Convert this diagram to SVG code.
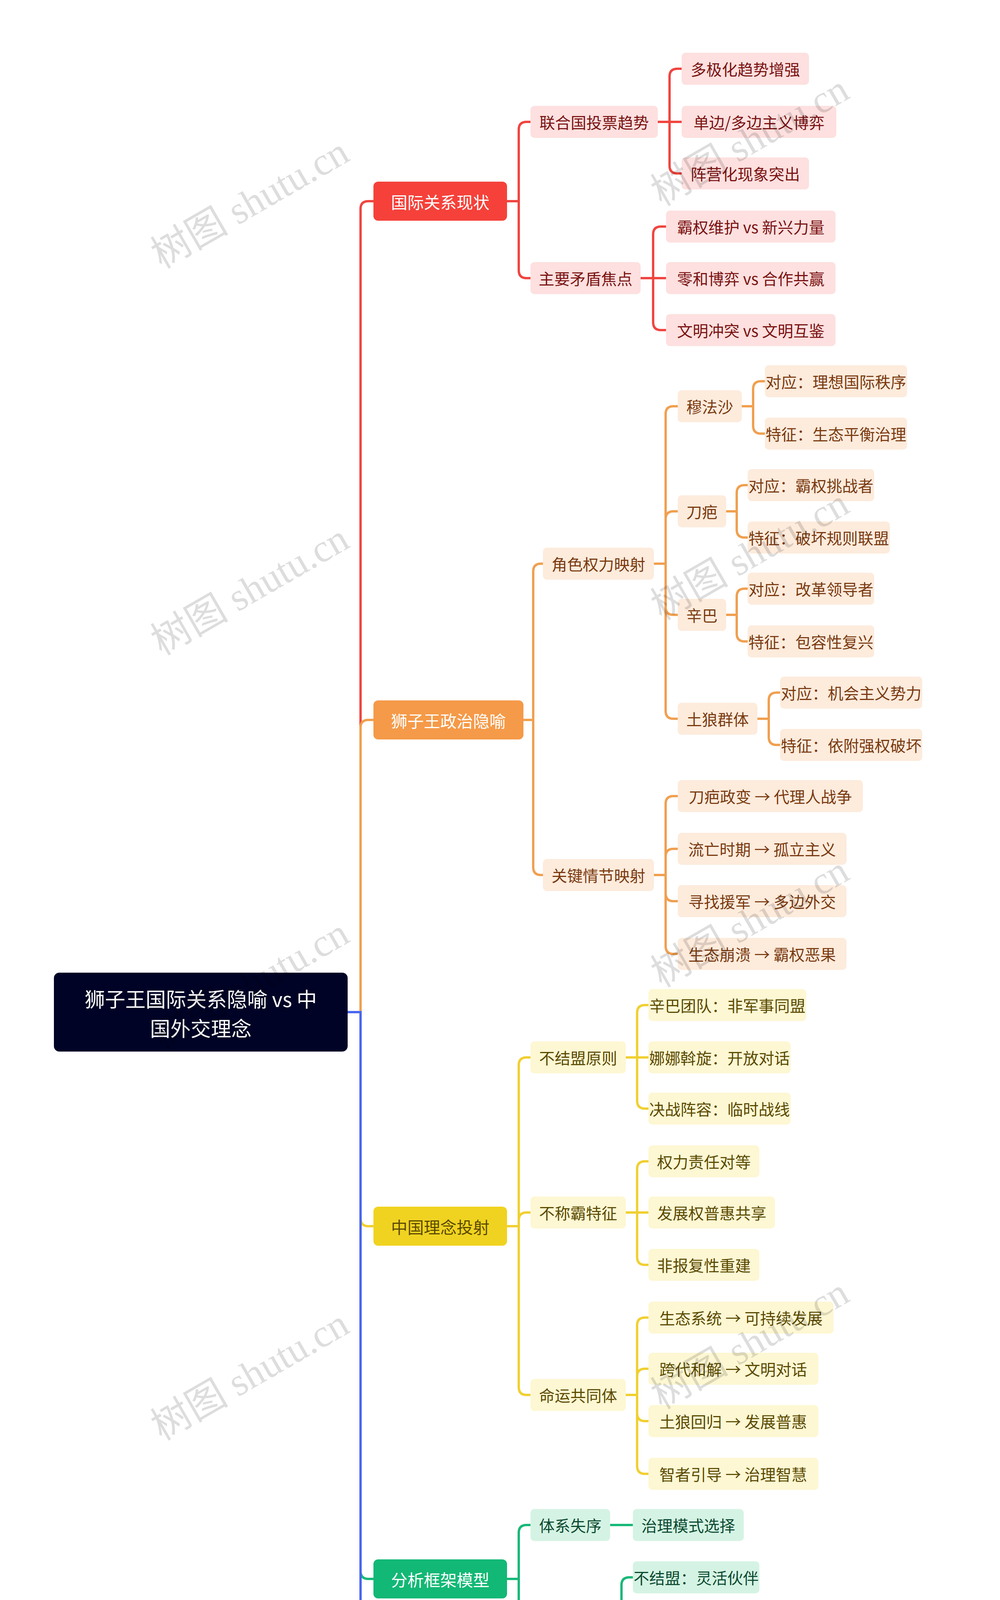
<svg xmlns="http://www.w3.org/2000/svg" width="2560" height="5051" viewBox="0 0 2560 5051">
<style>
text{font-family:"Noto Sans CJK SC","Liberation Sans",sans-serif;dominant-baseline:central;text-anchor:middle}
.t1{font-size:42px}.t2{font-size:40px}
.wm{font-family:"Liberation Serif","Noto Sans CJK SC",serif;font-size:100px;fill:#000;opacity:0.13;text-anchor:middle}
#connectors path{fill:none;stroke-width:6}
.cr{stroke:#f04540}.co{stroke:#f0a050}.cy{stroke:#f0d030}.cg{stroke:#18b878}.cb{stroke:#4a66ee}
.r1{fill:#f5413a}.r2{fill:#fde0df}.rt{fill:#7a1212}
.o1{fill:#f59a48}.o2{fill:#fdebdc}.ot{fill:#7a3a10}
.y1{fill:#f0d321}.y2{fill:#fdf7d3}.yt{fill:#5a4a00}
.g1{fill:#12b875}.g2{fill:#d5f3e4}.gt{fill:#0b4a30}
.b1{fill:#4a66f0}.b2{fill:#dde3fc}.bt{fill:#1a2a80}
.w{fill:#fff}
</style>
<rect width="2560" height="5051" fill="#fff"/>
<g id="connectors">
<path class="cr" d="M890 2591 H923 V535 Q923 515 943 515 H956"/>
<path class="co" d="M890 2591 H923 V1863 Q923 1843 943 1843 H956"/>
<path class="cy" d="M890 2591 H923 V3119 Q923 3139 943 3139 H956"/>
<path class="cg" d="M890 2591 H923 V4022 Q923 4042 943 4042 H956"/>
<path class="cb" d="M890 2591 H923 V4614 Q923 4634 943 4634 H956"/>
<path class="cr" d="M1298 515 H1328 V332 Q1328 312 1348 312 H1358"/>
<path class="cr" d="M1298 515 H1328 V692 Q1328 712 1348 712 H1358"/>
<path class="cr" d="M1684 312 H1714 V196 Q1714 176 1734 176 H1745"/>
<path class="cr" d="M1684 312 H1745"/>
<path class="cr" d="M1684 312 H1714 V424 Q1714 444 1734 444 H1745"/>
<path class="cr" d="M1640 712 H1672 V600 Q1672 580 1692 580 H1705"/>
<path class="cr" d="M1640 712 H1705"/>
<path class="cr" d="M1640 712 H1672 V825 Q1672 845 1692 845 H1705"/>
<path class="co" d="M1340 1843 H1365 V1463 Q1365 1443 1385 1443 H1390"/>
<path class="co" d="M1340 1843 H1365 V2220 Q1365 2240 1385 2240 H1390"/>
<path class="co" d="M1674 1443 H1704 V1060 Q1704 1040 1724 1040 H1735"/>
<path class="co" d="M1674 1443 H1704 V1329 Q1704 1309 1724 1309 H1735"/>
<path class="co" d="M1674 1443 H1704 V1554 Q1704 1574 1724 1574 H1735"/>
<path class="co" d="M1674 1443 H1704 V1820 Q1704 1840 1724 1840 H1735"/>
<path class="co" d="M1899 1040 H1928 V996 Q1928 976 1948 976 H1958"/>
<path class="co" d="M1899 1040 H1928 V1090 Q1928 1110 1948 1110 H1958"/>
<path class="co" d="M1859 1309 H1886 V1262 Q1886 1242 1906 1242 H1914"/>
<path class="co" d="M1859 1309 H1886 V1356 Q1886 1376 1906 1376 H1914"/>
<path class="co" d="M1859 1574 H1886 V1527 Q1886 1507 1906 1507 H1914"/>
<path class="co" d="M1859 1574 H1886 V1622 Q1886 1642 1906 1642 H1914"/>
<path class="co" d="M1939 1840 H1968 V1793 Q1968 1773 1988 1773 H1997"/>
<path class="co" d="M1939 1840 H1968 V1887 Q1968 1907 1988 1907 H1997"/>
<path class="co" d="M1674 2240 H1704 V2058 Q1704 2038 1724 2038 H1735"/>
<path class="co" d="M1674 2240 H1704 V2193 Q1704 2173 1724 2173 H1735"/>
<path class="co" d="M1674 2240 H1704 V2287 Q1704 2307 1724 2307 H1735"/>
<path class="co" d="M1674 2240 H1704 V2422 Q1704 2442 1724 2442 H1735"/>
<path class="cy" d="M1298 3139 H1328 V2727 Q1328 2707 1348 2707 H1358"/>
<path class="cy" d="M1298 3139 H1328 V3124 Q1328 3104 1348 3104 H1358"/>
<path class="cy" d="M1298 3139 H1328 V3551 Q1328 3571 1348 3571 H1358"/>
<path class="cy" d="M1602 2707 H1631 V2593 Q1631 2573 1651 2573 H1660"/>
<path class="cy" d="M1602 2707 H1660"/>
<path class="cy" d="M1602 2707 H1631 V2818 Q1631 2838 1651 2838 H1660"/>
<path class="cy" d="M1602 3104 H1631 V2993 Q1631 2973 1651 2973 H1660"/>
<path class="cy" d="M1602 3104 H1660"/>
<path class="cy" d="M1602 3104 H1631 V3218 Q1631 3238 1651 3238 H1660"/>
<path class="cy" d="M1602 3571 H1631 V3393 Q1631 3373 1651 3373 H1660"/>
<path class="cy" d="M1602 3571 H1631 V3524 Q1631 3504 1651 3504 H1660"/>
<path class="cy" d="M1602 3571 H1631 V3618 Q1631 3638 1651 3638 H1660"/>
<path class="cy" d="M1602 3571 H1631 V3753 Q1631 3773 1651 3773 H1660"/>
<path class="cg" d="M1298 4042 H1328 V3924 Q1328 3904 1348 3904 H1358"/>
<path class="cg" d="M1298 4042 H1328 V4153 Q1328 4173 1348 4173 H1358"/>
<path class="cg" d="M1562 3904 H1620"/>
<path class="cg" d="M1562 4173 H1591 V4058 Q1591 4038 1611 4038 H1620"/>
<path class="cg" d="M1562 4173 H1620"/>
<path class="cg" d="M1562 4173 H1591 V4284 Q1591 4304 1611 4304 H1620"/>
<path class="cb" d="M1214 4634 H1242 V4458 Q1242 4438 1262 4438 H1270"/>
<path class="cb" d="M1214 4634 H1242 V4590 Q1242 4570 1262 4570 H1270"/>
<path class="cb" d="M1214 4634 H1242 V4684 Q1242 4704 1262 4704 H1270"/>
<path class="cb" d="M1214 4634 H1242 V4815 Q1242 4835 1262 4835 H1270"/>
</g>
<g id="root"><rect x="138" y="2490" width="752" height="202" rx="14" fill="#000325"/><text x="514" y="2555" class="w" font-size="52">狮子王国际关系隐喻 vs 中</text><text x="514" y="2630" class="w" font-size="52">国外交理念</text></g>
<g id="n-A"><rect x="956" y="465" width="342" height="100" rx="12" class="r1"/><text x="1127" y="515" class="t1 w">国际关系现状</text></g>
<g id="n-B"><rect x="956" y="1793" width="384" height="100" rx="12" class="o1"/><text x="1148" y="1843" class="t1 w">狮子王政治隐喻</text></g>
<g id="n-C"><rect x="956" y="3089" width="342" height="100" rx="12" class="y1"/><text x="1127" y="3139" class="t1 yt">中国理念投射</text></g>
<g id="n-D"><rect x="956" y="3992" width="342" height="100" rx="12" class="g1"/><text x="1127" y="4042" class="t1 w">分析框架模型</text></g>
<g id="n-E"><rect x="956" y="4584" width="258" height="100" rx="12" class="b1"/><text x="1085" y="4634" class="t1 w">当代启示</text></g>
<g id="n-A1"><rect x="1358" y="271" width="326" height="82" rx="10" class="r2"/><text x="1521" y="312" class="t2 rt">联合国投票趋势</text></g>
<g id="n-A2"><rect x="1358" y="671" width="282" height="82" rx="10" class="r2"/><text x="1499" y="712" class="t2 rt">主要矛盾焦点</text></g>
<g id="n-A1a"><rect x="1745" y="135" width="326" height="82" rx="10" class="r2"/><text x="1908" y="176" class="t2 rt">多极化趋势增强</text></g>
<g id="n-A1b"><rect x="1745" y="271" width="396" height="82" rx="10" class="r2"/><text x="1943" y="312" class="t2 rt">单边/多边主义博弈</text></g>
<g id="n-A1c"><rect x="1745" y="403" width="326" height="82" rx="10" class="r2"/><text x="1908" y="444" class="t2 rt">阵营化现象突出</text></g>
<g id="n-A2a"><rect x="1705" y="539" width="434" height="82" rx="10" class="r2"/><text x="1922" y="580" class="t2 rt">霸权维护 vs 新兴力量</text></g>
<g id="n-A2b"><rect x="1705" y="671" width="434" height="82" rx="10" class="r2"/><text x="1922" y="712" class="t2 rt">零和博弈 vs 合作共赢</text></g>
<g id="n-A2c"><rect x="1705" y="804" width="434" height="82" rx="10" class="r2"/><text x="1922" y="845" class="t2 rt">文明冲突 vs 文明互鉴</text></g>
<g id="n-B1"><rect x="1390" y="1402" width="284" height="82" rx="10" class="o2"/><text x="1532" y="1443" class="t2 ot">角色权力映射</text></g>
<g id="n-B2"><rect x="1390" y="2199" width="284" height="82" rx="10" class="o2"/><text x="1532" y="2240" class="t2 ot">关键情节映射</text></g>
<g id="n-B1a"><rect x="1735" y="999" width="164" height="82" rx="10" class="o2"/><text x="1817" y="1040" class="t2 ot">穆法沙</text></g>
<g id="n-B1b"><rect x="1735" y="1268" width="124" height="82" rx="10" class="o2"/><text x="1797" y="1309" class="t2 ot">刀疤</text></g>
<g id="n-B1c"><rect x="1735" y="1533" width="124" height="82" rx="10" class="o2"/><text x="1797" y="1574" class="t2 ot">辛巴</text></g>
<g id="n-B1d"><rect x="1735" y="1799" width="204" height="82" rx="10" class="o2"/><text x="1837" y="1840" class="t2 ot">土狼群体</text></g>
<g id="n-B1a1"><rect x="1958" y="935" width="364" height="82" rx="10" class="o2"/><text x="2140" y="976" class="t2 ot">对应：理想国际秩序</text></g>
<g id="n-B1a2"><rect x="1958" y="1069" width="364" height="82" rx="10" class="o2"/><text x="2140" y="1110" class="t2 ot">特征：生态平衡治理</text></g>
<g id="n-B1b1"><rect x="1914" y="1201" width="324" height="82" rx="10" class="o2"/><text x="2076" y="1242" class="t2 ot">对应：霸权挑战者</text></g>
<g id="n-B1b2"><rect x="1914" y="1335" width="364" height="82" rx="10" class="o2"/><text x="2096" y="1376" class="t2 ot">特征：破坏规则联盟</text></g>
<g id="n-B1c1"><rect x="1914" y="1466" width="324" height="82" rx="10" class="o2"/><text x="2076" y="1507" class="t2 ot">对应：改革领导者</text></g>
<g id="n-B1c2"><rect x="1914" y="1601" width="324" height="82" rx="10" class="o2"/><text x="2076" y="1642" class="t2 ot">特征：包容性复兴</text></g>
<g id="n-B1d1"><rect x="1997" y="1732" width="364" height="82" rx="10" class="o2"/><text x="2179" y="1773" class="t2 ot">对应：机会主义势力</text></g>
<g id="n-B1d2"><rect x="1997" y="1866" width="364" height="82" rx="10" class="o2"/><text x="2179" y="1907" class="t2 ot">特征：依附强权破坏</text></g>
<g id="n-B2a"><rect x="1735" y="1997" width="474" height="82" rx="10" class="o2"/><text x="1972" y="2038" class="t2 ot">刀疤政变 → 代理人战争</text></g>
<g id="n-B2b"><rect x="1735" y="2132" width="432" height="82" rx="10" class="o2"/><text x="1951" y="2173" class="t2 ot">流亡时期 → 孤立主义</text></g>
<g id="n-B2c"><rect x="1735" y="2266" width="432" height="82" rx="10" class="o2"/><text x="1951" y="2307" class="t2 ot">寻找援军 → 多边外交</text></g>
<g id="n-B2d"><rect x="1735" y="2401" width="432" height="82" rx="10" class="o2"/><text x="1951" y="2442" class="t2 ot">生态崩溃 → 霸权恶果</text></g>
<g id="n-C1"><rect x="1358" y="2666" width="244" height="82" rx="10" class="y2"/><text x="1480" y="2707" class="t2 yt">不结盟原则</text></g>
<g id="n-C2"><rect x="1358" y="3063" width="244" height="82" rx="10" class="y2"/><text x="1480" y="3104" class="t2 yt">不称霸特征</text></g>
<g id="n-C3"><rect x="1358" y="3530" width="244" height="82" rx="10" class="y2"/><text x="1480" y="3571" class="t2 yt">命运共同体</text></g>
<g id="n-C1a"><rect x="1660" y="2532" width="404" height="82" rx="10" class="y2"/><text x="1862" y="2573" class="t2 yt">辛巴团队：非军事同盟</text></g>
<g id="n-C1b"><rect x="1660" y="2666" width="364" height="82" rx="10" class="y2"/><text x="1842" y="2707" class="t2 yt">娜娜斡旋：开放对话</text></g>
<g id="n-C1c"><rect x="1660" y="2797" width="364" height="82" rx="10" class="y2"/><text x="1842" y="2838" class="t2 yt">决战阵容：临时战线</text></g>
<g id="n-C2a"><rect x="1660" y="2932" width="284" height="82" rx="10" class="y2"/><text x="1802" y="2973" class="t2 yt">权力责任对等</text></g>
<g id="n-C2b"><rect x="1660" y="3063" width="324" height="82" rx="10" class="y2"/><text x="1822" y="3104" class="t2 yt">发展权普惠共享</text></g>
<g id="n-C2c"><rect x="1660" y="3197" width="284" height="82" rx="10" class="y2"/><text x="1802" y="3238" class="t2 yt">非报复性重建</text></g>
<g id="n-C3a"><rect x="1660" y="3332" width="474" height="82" rx="10" class="y2"/><text x="1897" y="3373" class="t2 yt">生态系统 → 可持续发展</text></g>
<g id="n-C3b"><rect x="1660" y="3463" width="435" height="82" rx="10" class="y2"/><text x="1877" y="3504" class="t2 yt">跨代和解 → 文明对话</text></g>
<g id="n-C3c"><rect x="1660" y="3597" width="435" height="82" rx="10" class="y2"/><text x="1877" y="3638" class="t2 yt">土狼回归 → 发展普惠</text></g>
<g id="n-C3d"><rect x="1660" y="3732" width="435" height="82" rx="10" class="y2"/><text x="1877" y="3773" class="t2 yt">智者引导 → 治理智慧</text></g>
<g id="n-D1"><rect x="1358" y="3863" width="204" height="82" rx="10" class="g2"/><text x="1460" y="3904" class="t2 gt">体系失序</text></g>
<g id="n-D2"><rect x="1358" y="4132" width="204" height="82" rx="10" class="g2"/><text x="1460" y="4173" class="t2 gt">中国方案</text></g>
<g id="n-D1a"><rect x="1620" y="3863" width="284" height="82" rx="10" class="g2"/><text x="1762" y="3904" class="t2 gt">治理模式选择</text></g>
<g id="n-D2a"><rect x="1620" y="3997" width="324" height="82" rx="10" class="g2"/><text x="1782" y="4038" class="t2 gt">不结盟：灵活伙伴</text></g>
<g id="n-D2b"><rect x="1620" y="4132" width="364" height="82" rx="10" class="g2"/><text x="1802" y="4173" class="t2 gt">不称霸：非强制领导</text></g>
<g id="n-D2c"><rect x="1620" y="4263" width="324" height="82" rx="10" class="g2"/><text x="1782" y="4304" class="t2 gt">共同体：系统方案</text></g>
<g id="n-E1"><rect x="1270" y="4397" width="284" height="82" rx="10" class="b2"/><text x="1412" y="4438" class="t2 bt">权力过渡智慧</text></g>
<g id="n-E2"><rect x="1270" y="4529" width="324" height="82" rx="10" class="b2"/><text x="1432" y="4570" class="t2 bt">治理合法性转型</text></g>
<g id="n-E3"><rect x="1270" y="4663" width="284" height="82" rx="10" class="b2"/><text x="1412" y="4704" class="t2 bt">全球公域治理</text></g>
<g id="n-E4"><rect x="1270" y="4794" width="284" height="82" rx="10" class="b2"/><text x="1412" y="4835" class="t2 bt">代际责任传承</text></g>
<g id="watermarks">
<text class="wm" transform="translate(640 520) rotate(-30)">树图 shutu.cn</text>
<text class="wm" transform="translate(640 1510) rotate(-30)">树图 shutu.cn</text>
<text class="wm" transform="translate(640 2520) rotate(-30)">树图 shutu.cn</text>
<text class="wm" transform="translate(640 3520) rotate(-30)">树图 shutu.cn</text>
<text class="wm" transform="translate(640 4510) rotate(-30)">树图 shutu.cn</text>
<text class="wm" transform="translate(1920 360) rotate(-30)">树图 shutu.cn</text>
<text class="wm" transform="translate(1920 1420) rotate(-30)">树图 shutu.cn</text>
<text class="wm" transform="translate(1920 2360) rotate(-30)">树图 shutu.cn</text>
<text class="wm" transform="translate(1920 3440) rotate(-30)">树图 shutu.cn</text>
<text class="wm" transform="translate(1920 4420) rotate(-30)">树图 shutu.cn</text>
</g>
</svg>
